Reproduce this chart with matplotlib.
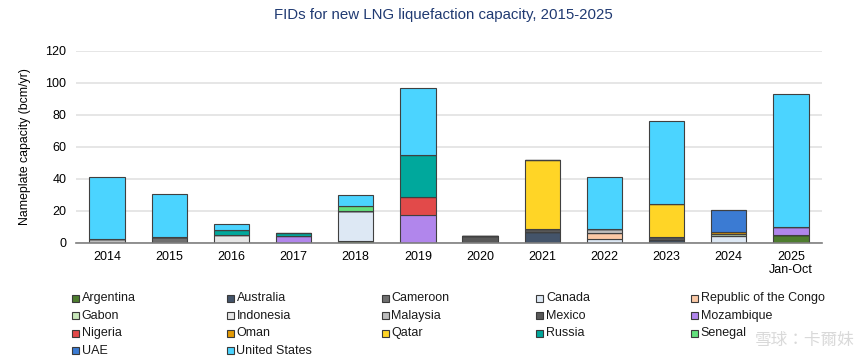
import matplotlib
matplotlib.use("Agg")
import matplotlib.pyplot as plt
from matplotlib.patches import Rectangle
import numpy as np

plt.rcParams["font.family"] = ["Liberation Sans", "DejaVu Sans"]

# --- data (bcm/yr), one list per country, 2014 .. 2025 Jan-Oct ---
years = ["2014", "2015", "2016", "2017", "2018", "2019", "2020",
         "2021", "2022", "2023", "2024", "2025\nJan-Oct"]

argentina = [0, 0, 0, 0, 0.8, 0, 0, 0, 0, 0, 0, 4.8]
australia = [0, 0, 0, 0, 0, 0, 0, 6.9, 0, 1.4, 0, 0]
cameroon = [0, 3.3, 0, 0, 0, 0, 0, 0, 0, 0, 0, 0]
canada = [0, 0, 0, 0, 18.8, 0, 0, 0, 2.5, 0, 4.0, 0]
congo = [0, 0, 0, 0, 0, 0, 0, 0, 3.5, 0, 0, 0]
gabon = [0, 0, 0, 0, 0, 0, 0, 0, 0, 0, 1.2, 0]
indonesia = [0, 0, 5.0, 0, 0, 0, 0, 0, 0, 0, 0, 0]
malaysia = [2.1, 0, 0, 0, 0, 0, 0, 0, 2.7, 0, 0, 0]
mexico = [0, 0, 0, 0, 0, 0, 4.2, 1.4, 0, 1.9, 0, 0]
mozambique = [0, 0, 0, 4.3, 0, 17.2, 0, 0, 0, 0, 0, 4.8]
nigeria = [0, 0, 0, 0, 0, 11.1, 0, 0, 0, 0, 0, 0]
oman = [0, 0, 0, 0, 0, 0, 0, 0, 0, 0, 1.5, 0]
qatar = [0, 0, 0, 0, 0, 0, 0, 43.5, 0, 21.0, 0, 0]
russia = [0, 0, 3.0, 1.5, 0, 26.6, 0, 0, 0, 0, 0, 0]
senegal = [0, 0, 0, 0, 3.1, 0, 0, 0, 0, 0, 0, 0]
uae = [0, 0, 0, 0, 0, 0, 0, 0, 0, 0, 13.5, 0]
united_states = [39.1, 27.1, 3.4, 0, 6.9, 41.9, 0, 0, 32.5, 51.6, 0, 83.3]

names = ["Argentina", "Australia", "Cameroon", "Canada", "Republic of the Congo",
         "Gabon", "Indonesia", "Malaysia", "Mexico", "Mozambique",
         "Nigeria", "Oman", "Qatar", "Russia", "Senegal",
         "UAE", "United States"]
series = [argentina, australia, cameroon, canada, congo,
          gabon, indonesia, malaysia, mexico, mozambique,
          nigeria, oman, qatar, russia, senegal,
          uae, united_states]
colors = ["#4e7d2f", "#44546a", "#6f6f6f", "#dde8f4", "#fbc9a6",
          "#c9e8bb", "#e6e6e6", "#bdbdbd", "#595959", "#b186ec",
          "#e24a4a", "#e39a05", "#ffd526", "#00a89c", "#62e07c",
          "#3b7bd3", "#4bd4ff"]

# --- figure ---
W, H = 865, 362
fig = plt.figure(figsize=(W / 100, H / 100), dpi=100)
ax = fig.add_axes([76 / W, 1 - 242.7 / H, 746 / W, 192 / H])

x = np.arange(len(years))
bottom = np.zeros(len(years))
for vals, col in zip(series, colors):
    v = np.array(vals)
    ax.bar(x, v, 0.57, bottom=bottom, color=col, edgecolor="#404040",
           linewidth=0.8, zorder=3)
    bottom += v

ax.set_xlim(-0.5, 11.5)
ax.set_ylim(0, 120)
ax.set_yticks(range(0, 121, 20))
ax.grid(axis="y", color="#e6e6e6", linewidth=1.4, zorder=0)
ax.set_axisbelow(True)
for s in ["top", "right", "left"]:
    ax.spines[s].set_visible(False)
ax.spines["bottom"].set_color("#7f7f7f")
ax.spines["bottom"].set_linewidth(1.2)
ax.spines["bottom"].set_zorder(4)
ax.set_xticks(x)
ax.set_xticklabels(years, fontsize=9, linespacing=1.1)
ax.tick_params(axis="x", length=0, pad=6)
ax.tick_params(axis="y", length=0, pad=7, labelsize=9)
ax.set_ylabel("Nameplate capacity (bcm/yr)", fontsize=8.8, labelpad=10)

fig.text(0.512, 1 - 15 / H, "FIDs for new LNG liquefaction capacity, 2015-2025",
         ha="center", va="center", fontsize=10.8, color="#203a72")

# --- legend, laid out row by row ---
for i, (name, col) in enumerate(zip(names, colors)):
    r, c = divmod(i, 5)
    lx = 72.3 + c * 154.7
    ly = 298.3 + r * 17.5
    fig.patches.append(Rectangle(((lx) / W, 1 - (ly + 3.4) / H), 6.8 / W, 6.8 / H,
                                 transform=fig.transFigure, facecolor=col,
                                 edgecolor="#3a3a3a", linewidth=0.8))
    fig.text((lx + 9.5) / W, 1 - ly / H, name, ha="left", va="center",
             fontsize=9, color="#1a1a1a")

# watermark
fig.text(0.872, 1 - 340 / H, "雪球：卡爾妹", ha="left", va="center", fontsize=12,
         color="#d0d0d0", alpha=0.8, family=["Noto Sans CJK TC", "DejaVu Sans"])

fig.savefig("out.png", dpi=100, facecolor="white")
